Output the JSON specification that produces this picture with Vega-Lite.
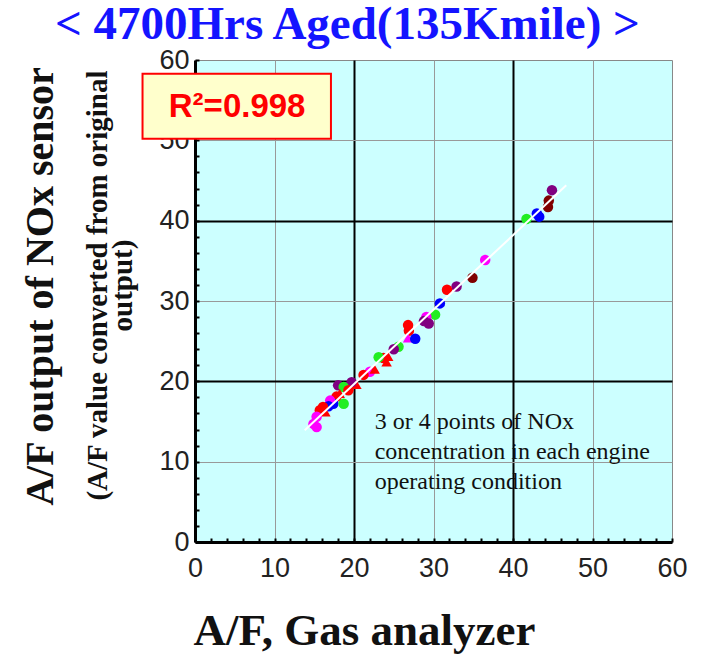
{
  "$schema": "https://vega.github.io/schema/vega-lite/v6.json",
  "width": 477,
  "height": 482,
  "autosize": {"type": "none"},
  "padding": {"left": 195, "top": 60, "right": 31, "bottom": 113},
  "background": "#FFFFFF",
  "config": {
    "view": {"fill": "#CCFFFF", "stroke": "#888888", "strokeWidth": 1},
    "axis": {"labelFont": "Liberation Sans", "titleFont": "Liberation Serif"}
  },
  "title": {
    "text": "< 4700Hrs Aged(135Kmile) >",
    "anchor": "start",
    "frame": "group",
    "dx": -140,
    "dy": 15,
    "fontSize": 47,
    "font": "Liberation Serif",
    "fontWeight": "bold",
    "color": "#1414FF",
    "offset": 12
  },
  "datasets": {
    "points": [
      {"x": 44.9, "y": 43.8, "c": "purple", "s": "circle"},
      {"x": 44.4, "y": 41.7, "c": "maroon", "s": "circle"},
      {"x": 44.5, "y": 42.5, "c": "maroon", "s": "circle"},
      {"x": 43.0, "y": 40.9, "c": "blue", "s": "circle"},
      {"x": 43.3, "y": 40.5, "c": "blue", "s": "circle"},
      {"x": 41.7, "y": 40.2, "c": "green", "s": "circle"},
      {"x": 36.5, "y": 35.1, "c": "magenta", "s": "circle"},
      {"x": 34.9, "y": 32.9, "c": "maroon", "s": "circle"},
      {"x": 32.9, "y": 31.8, "c": "purple", "s": "circle"},
      {"x": 31.7, "y": 31.4, "c": "red", "s": "circle"},
      {"x": 30.8, "y": 29.7, "c": "blue", "s": "circle"},
      {"x": 30.2, "y": 28.3, "c": "green", "s": "circle"},
      {"x": 29.1, "y": 28.0, "c": "magenta", "s": "circle"},
      {"x": 29.4, "y": 27.2, "c": "purple", "s": "circle"},
      {"x": 28.8, "y": 27.5, "c": "purple", "s": "circle"},
      {"x": 26.8, "y": 27.0, "c": "red", "s": "circle"},
      {"x": 26.9, "y": 26.3, "c": "red", "s": "circle"},
      {"x": 26.8, "y": 25.4, "c": "magenta", "s": "triangle-up"},
      {"x": 27.7, "y": 25.3, "c": "blue", "s": "circle"},
      {"x": 25.6, "y": 24.3, "c": "green", "s": "circle"},
      {"x": 25.0, "y": 24.0, "c": "purple", "s": "circle"},
      {"x": 23.7, "y": 22.9, "c": "red", "s": "circle"},
      {"x": 24.1, "y": 22.4, "c": "red", "s": "triangle-up"},
      {"x": 24.3, "y": 23.1, "c": "red", "s": "triangle-up"},
      {"x": 23.1, "y": 23.0, "c": "green", "s": "circle"},
      {"x": 22.0, "y": 21.2, "c": "magenta", "s": "circle"},
      {"x": 22.6, "y": 21.5, "c": "red", "s": "triangle-up"},
      {"x": 21.2, "y": 20.8, "c": "red", "s": "circle"},
      {"x": 20.3, "y": 19.6, "c": "red", "s": "triangle-up"},
      {"x": 19.7, "y": 19.9, "c": "purple", "s": "circle"},
      {"x": 18.0, "y": 19.5, "c": "purple", "s": "circle"},
      {"x": 18.7, "y": 19.3, "c": "green", "s": "circle"},
      {"x": 19.3, "y": 18.9, "c": "red", "s": "circle"},
      {"x": 18.2, "y": 18.5, "c": "red", "s": "triangle-up"},
      {"x": 17.8, "y": 18.1, "c": "red", "s": "circle"},
      {"x": 17.4, "y": 17.2, "c": "blue", "s": "circle"},
      {"x": 18.7, "y": 17.2, "c": "green", "s": "circle"},
      {"x": 17.0, "y": 17.6, "c": "magenta", "s": "circle"},
      {"x": 16.8, "y": 16.9, "c": "blue", "s": "circle"},
      {"x": 16.1, "y": 16.8, "c": "red", "s": "circle"},
      {"x": 16.4, "y": 16.2, "c": "red", "s": "triangle-up"},
      {"x": 15.7, "y": 16.4, "c": "red", "s": "circle"},
      {"x": 15.3, "y": 15.6, "c": "magenta", "s": "circle"},
      {"x": 14.9, "y": 14.7, "c": "magenta", "s": "circle"},
      {"x": 15.3, "y": 14.3, "c": "magenta", "s": "circle"}
    ],
    "fit": [
      {"x": 13.8, "y": 13.9},
      {"x": 46.7, "y": 44.4}
    ]
  },
  "layer": [
    {
      "data": {"name": "points"},
      "mark": {"type": "point", "filled": true, "opacity": 1, "size": 110},
      "encoding": {
        "x": {
          "field": "x", "type": "quantitative",
          "scale": {"domain": [0, 60], "nice": false, "zero": false},
          "axis": {
            "values": [0,2,4,6,8,10,12,14,16,18,20,22,24,26,28,30,32,34,36,38,40,42,44,46,48,50,52,54,56,58,60],
            "labelExpr": "datum.value % 10 === 0 ? datum.label : ''",
            "labelOverlap": false,
            "labelFontSize": 27, "labelColor": "#222222", "labelPadding": 17,
            "labelFlush": false,
            "domainColor": "#000000", "domainWidth": 3,
            "tickColor": "#000000", "tickWidth": 2, "tickSize": -4,
            "grid": true,
            "gridColor": {"condition": {"test": "datum.value === 20 || datum.value === 40", "value": "#000000"}, "value": "#999999"},
            "gridWidth": {"condition": {"test": "datum.value === 20 || datum.value === 40", "value": 2}, "value": 1},
            "gridOpacity": {"condition": {"test": "datum.value % 10 !== 0 || datum.value === 0 || datum.value === 60", "value": 0}, "value": 1},
            "title": "A/F, Gas analyzer",
            "titleFontSize": 45, "titleFontWeight": "bold", "titleColor": "#111111",
            "titleX": 169, "titleY": 88, "titleAlign": "center", "titleBaseline": "middle", "titleAnchor": "start"
          }
        },
        "y": {
          "field": "y", "type": "quantitative",
          "scale": {"domain": [0, 60], "nice": false, "zero": false},
          "axis": {
            "values": [0,2,4,6,8,10,12,14,16,18,20,22,24,26,28,30,32,34,36,38,40,42,44,46,48,50,52,54,56,58,60],
            "labelExpr": "datum.value % 10 === 0 ? datum.label : ''",
            "labelOverlap": false,
            "labelFontSize": 27, "labelColor": "#222222", "labelPadding": 10,
            "labelFlush": false,
            "domainColor": "#000000", "domainWidth": 3,
            "tickColor": "#000000", "tickWidth": 2, "tickSize": -4,
            "grid": true,
            "gridColor": {"condition": {"test": "datum.value === 20 || datum.value === 40", "value": "#000000"}, "value": "#999999"},
            "gridWidth": {"condition": {"test": "datum.value === 20 || datum.value === 40", "value": 2}, "value": 1},
            "gridOpacity": {"condition": {"test": "datum.value % 10 !== 0 || datum.value === 0 || datum.value === 60", "value": 0}, "value": 1},
            "title": ["(A/F value converted from original", "output)"],
            "titleFontSize": 29, "titleFontWeight": "bold", "titleColor": "#111111",
            "titleLineHeight": 25,
            "titleX": -98, "titleY": 225, "titleAngle": -90, "titleAlign": "center", "titleBaseline": "middle", "titleAnchor": "start"
          }
        },
        "color": {
          "field": "c", "type": "nominal", "legend": null,
          "scale": {
            "domain": ["red", "green", "blue", "magenta", "purple", "maroon"],
            "range": ["#FF0000", "#22EE22", "#0000FF", "#FF00FF", "#800080", "#800000"]
          }
        },
        "shape": {
          "field": "s", "type": "nominal", "legend": null,
          "scale": {"domain": ["circle", "triangle-up"], "range": ["circle", "triangle-up"]}
        }
      }
    },
    {
      "data": {"name": "fit"},
      "mark": {"type": "line", "color": "#FFFFFF", "strokeWidth": 2},
      "encoding": {
        "x": {"field": "x", "type": "quantitative", "scale": {"domain": [0, 60], "nice": false, "zero": false}, "axis": null},
        "y": {
          "field": "y", "type": "quantitative",
          "scale": {"domain": [0, 60], "nice": false, "zero": false},
          "axis": {
            "orient": "left",
            "labels": false, "ticks": false, "domain": false, "grid": false,
            "title": "A/F output of NOx sensor",
            "titleFontSize": 40, "titleFontWeight": "bold", "titleColor": "#111111",
            "titleX": -155, "titleY": 226, "titleAngle": -90, "titleAlign": "center", "titleBaseline": "middle", "titleAnchor": "start"
          }
        }
      }
    },
    {
      "data": {"values": [{"t": "box"}]},
      "mark": {"type": "rect", "fill": "#FFFFCC", "stroke": "#FF0000", "strokeWidth": 2},
      "encoding": {
        "x": {"datum": -6.6, "type": "quantitative", "axis": null},
        "x2": {"datum": 17.1},
        "y": {"datum": 58.3, "type": "quantitative", "axis": null},
        "y2": {"datum": 50.2}
      }
    },
    {
      "data": {"values": [{"t": "R²=0.998"}]},
      "mark": {"type": "text", "font": "Liberation Sans", "fontWeight": "bold", "fontSize": 33, "color": "#FF0000", "align": "center", "baseline": "middle"},
      "encoding": {
        "x": {"datum": 5.3, "type": "quantitative", "axis": null},
        "y": {"datum": 54.2, "type": "quantitative", "axis": null},
        "text": {"field": "t"}
      }
    },
    {
      "data": {"values": [{"t": ["3 or 4 points of NOx", "concentration in each engine", "operating condition"]}]},
      "mark": {"type": "text", "font": "Liberation Serif", "fontSize": 24, "lineHeight": 30, "color": "#111111", "align": "left", "baseline": "top"},
      "encoding": {
        "x": {"datum": 22.6, "type": "quantitative", "axis": null},
        "y": {"datum": 16.4, "type": "quantitative", "axis": null},
        "text": {"field": "t"}
      }
    }
  ],
  "resolve": {"axis": {"x": "independent", "y": "independent"}}
}
